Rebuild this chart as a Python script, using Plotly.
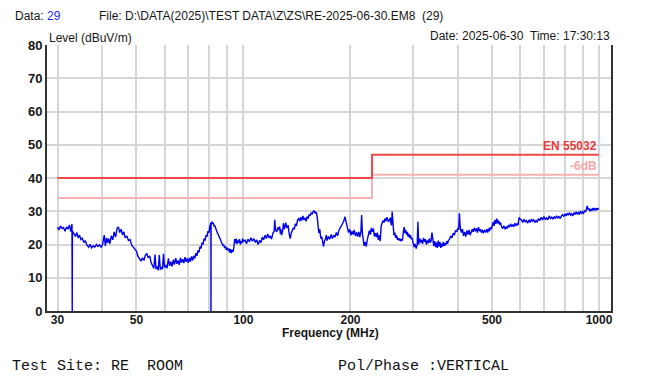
import plotly.graph_objects as go

# ---------------- data ----------------
spectrum = [
    (30.0, 25.2), (30.3, 24.4), (30.6, 25.6), (30.9, 24.8), (31.2, 25.1), (31.5, 24.0), (31.8, 25.3),
    (32.1, 24.6), (32.4, 25.9), (32.7, 23.9), (32.95, 26.2), (33.0, 0.0), (33.05, 24.0),
    (33.4, 23.2), (33.7, 22.4), (34.0, 23.6), (34.3, 22.0), (34.6, 22.8), (34.9, 21.5), (35.2, 21.9),
    (35.6, 20.6), (35.9, 21.2), (36.3, 19.8), (36.7, 19.2), (37.0, 20.1), (37.4, 19.0), (37.8, 19.6),
    (38.2, 19.2), (38.6, 20.0), (39.0, 19.4), (39.4, 19.9), (39.8, 19.1), (40.2, 20.2),
    (40.6, 22.8), (40.9, 19.6), (41.2, 22.0), (41.5, 20.5), (41.8, 21.8), (42.1, 20.2), (42.5, 22.6),
    (42.9, 21.4), (43.3, 23.8), (43.7, 22.2), (44.1, 24.8), (44.5, 25.3), (44.9, 23.6), (45.3, 24.6),
    (45.7, 22.9), (46.1, 23.8), (46.5, 22.0), (47.0, 22.6), (47.5, 21.2), (48.0, 21.5), (48.5, 19.8),
    (49.0, 19.2), (49.5, 18.4), (50.0, 18.0),
    (50.5, 16.5), (51.0, 15.6), (51.5, 15.0), (52.0, 16.0), (52.5, 15.2), (53.0, 16.8), (53.5, 17.2),
    (54.0, 16.0), (54.5, 16.6), (55.0, 14.6), (55.5, 13.8), (56.0, 12.8), (56.4, 17.0), (56.8, 12.6),
    (57.2, 13.4), (57.6, 12.2), (58.0, 16.8), (58.4, 12.4), (58.8, 13.2), (59.2, 12.6), (59.6, 17.2),
    (60.0, 13.0), (60.5, 13.8), (61.0, 12.9), (61.5, 15.8), (62.0, 13.6), (62.5, 14.8), (63.0, 13.4),
    (63.5, 15.4), (64.0, 14.0), (64.5, 15.9), (65.0, 14.2), (65.5, 15.2), (66.0, 13.9), (66.5, 16.0),
    (67.0, 14.6), (67.5, 15.6), (68.0, 14.4), (68.5, 16.2), (69.0, 14.8), (69.5, 15.8),
    (70.0, 14.5), (70.5, 16.0), (71.0, 14.9), (71.5, 16.4), (72.0, 15.2), (72.5, 16.6), (73.0, 15.8),
    (73.5, 17.4), (74.0, 16.6), (74.5, 18.2), (75.0, 17.6), (75.5, 19.4), (76.0, 18.8), (76.5, 20.6),
    (77.0, 20.0), (77.5, 21.8), (78.0, 21.2), (78.5, 22.8), (79.0, 22.4), (79.5, 24.0), (80.0, 23.6),
    (80.4, 25.2), (80.8, 26.2), (81.0, 26.6), (81.05, 0.0), (81.1, 26.0), (81.5, 26.9), (81.9, 26.2),
    (82.3, 26.6), (82.7, 25.4), (83.0, 25.8), (83.5, 24.6), (84.0, 24.2), (84.5, 23.4), (85.0, 23.0),
    (85.5, 22.2), (86.0, 21.8), (86.5, 21.0), (87.0, 20.6), (87.5, 19.8), (88.0, 19.9), (88.5, 19.0),
    (89.0, 19.4), (89.5, 18.4), (90.0, 19.0), (90.5, 18.2), (91.0, 18.8), (91.5, 17.6), (92.0, 18.6),
    (92.5, 17.4), (93.0, 18.4), (93.5, 17.8), (94.0, 19.2), (94.5, 21.6), (95.0, 20.4),
    (95.5, 21.8), (96.0, 20.2), (96.5, 21.2), (97.0, 20.6), (97.5, 21.6), (98.0, 20.0), (98.5, 21.0),
    (99.0, 20.4), (99.5, 21.8), (100, 20.8), (101, 21.4), (102, 20.2), (103, 21.6), (104, 20.8),
    (105, 22.0), (106, 21.0), (107, 21.8), (108, 20.6), (109, 21.4), (110, 20.0), (111, 21.2),
    (112, 20.6), (113, 22.2), (114, 21.4), (115, 22.8), (116, 21.8), (117, 23.2), (118, 22.0),
    (119, 22.6), (120, 21.6), (121, 23.4), (122, 24.0), (122.5, 27.4), (123, 24.6), (124, 23.8),
    (125, 25.2), (126, 24.4), (126.5, 25.4), (127, 23.2), (127.5, 24.6), (128, 22.8), (129, 24.2),
    (129.5, 26.4), (130.5, 24.6), (131.5, 26.6), (132.5, 25.0), (133.5, 25.8), (134.5, 23.2),
    (135.4, 21.8), (136.3, 23.4), (137.2, 24.2), (138.1, 25.0), (139.0, 24.6), (140, 26.2), (141, 25.6),
    (142, 27.4), (143, 27.8), (144, 27.0), (145, 28.2), (146, 27.2), (147, 28.6), (148, 27.4),
    (149, 28.0), (150, 27.0), (151, 28.4), (152, 27.8), (153, 29.0), (154, 28.6), (155, 29.6),
    (156, 29.2), (157, 29.8), (158, 30.2), (159, 29.4), (160, 29.8), (161, 28.8), (162, 25.6),
    (163, 23.4), (164, 24.6), (165, 21.8), (166, 22.4), (167, 20.4), (168, 19.4), (169, 21.0),
    (170, 21.6), (171, 22.8), (172, 21.2), (173.5, 22.4), (175, 21.6), (176.5, 23.0), (178, 21.8),
    (179.5, 22.8), (181, 22.2), (182.5, 23.6), (184, 22.6), (185.5, 24.2), (187, 24.8), (188.5, 25.6),
    (190, 26.0), (191.5, 27.0), (193, 28.4), (194.5, 26.6), (196, 25.0), (197.5, 23.6), (199, 24.6),
    (200.5, 22.8), (202, 24.0), (203.5, 23.0), (205, 24.4), (206.5, 22.6), (208, 23.6), (209.5, 22.4),
    (211, 23.8), (212.5, 22.2), (214, 24.0), (215, 28.9), (216, 23.4), (217, 21.6), (218.5, 19.6),
    (220, 20.8), (221.5, 19.4), (223, 21.4), (224.5, 22.6), (226, 24.2), (227.5, 23.0), (229, 25.0),
    (230.5, 23.8), (232, 24.8), (233.5, 22.4), (235, 23.4), (236.5, 22.2), (238, 23.6), (239.5, 21.4),
    (241, 22.8), (242.5, 21.0), (244, 25.6), (245.5, 26.4), (247, 27.2), (248.5, 26.6), (250, 27.8),
    (251.5, 27.0), (253, 28.2), (254.5, 27.4), (256, 26.8), (257.5, 27.6), (259, 28.0), (260, 26.2),
    (261, 25.8), (262, 29.9), (263.5, 24.6), (265, 22.8), (266.5, 23.6), (268, 22.0), (269.5, 22.8),
    (271, 21.4), (272.5, 22.0), (274, 21.2), (275.5, 21.8), (277, 21.0), (278.5, 21.6), (280, 21.2),
    (281.5, 23.6), (283, 25.2), (284.5, 23.4), (286, 24.4), (287.5, 23.0), (289, 23.8), (290.5, 22.4),
    (292, 23.2), (293.5, 22.0), (295, 22.8), (296.5, 21.6), (298, 22.0), (300, 20.4), (302, 19.2),
    (304, 20.2), (306, 18.8), (308, 19.8), (309.5, 26.8), (311, 20.0), (313, 21.8), (315, 20.6),
    (317, 21.4), (319, 20.2), (321, 22.0), (323, 20.8), (325, 21.6), (327, 20.0), (329, 21.2),
    (331, 20.4), (333, 21.8), (335, 20.6), (337, 21.0), (339, 23.6), (341, 20.4), (343, 19.6),
    (345, 21.0), (347, 19.2), (349, 20.6), (351, 19.0), (353, 21.2), (355, 19.4), (357, 20.8),
    (359, 19.0), (361, 20.2), (363, 19.4), (365, 20.8), (367, 19.6), (369, 20.4), (371, 19.8),
    (373, 21.0), (375, 20.2), (377, 21.2), (380, 21.6), (383, 22.6), (386, 22.0), (389, 23.4),
    (392, 22.8), (395, 24.2), (398, 23.8), (401, 25.0), (403, 24.4), (405, 29.4), (407, 25.2),
    (410, 23.6), (413, 24.6), (416, 22.6), (419, 23.8), (422, 22.4), (425, 24.2), (428, 23.0),
    (431, 24.4), (434, 22.8), (437, 23.6), (440, 24.6), (443, 23.8), (446, 25.0), (449, 24.0),
    (452, 24.8), (455, 23.6), (458, 25.2), (461, 24.0), (464, 24.6), (467, 23.6), (470, 24.4),
    (473, 23.4), (476, 24.2), (480, 23.8), (483, 24.6), (486, 23.6), (489, 24.8), (492, 24.0),
    (495, 25.2), (498, 24.6), (501, 25.8), (504, 26.8), (507, 25.6), (510, 27.4), (513, 26.2),
    (516, 27.8), (519, 26.4), (522, 27.2), (525, 26.0), (528, 26.6), (532, 25.4), (536, 24.8),
    (540, 25.6), (544, 24.6), (548, 25.4), (552, 24.8), (556, 25.8), (560, 25.2), (564, 26.2),
    (568, 25.4), (572, 26.0), (576, 25.4), (580, 26.4), (584, 25.6), (588, 26.2), (592, 25.8),
    (596, 28.2), (600, 27.6), (605, 27.4), (610, 26.6), (615, 27.6), (620, 26.8), (625, 27.2),
    (630, 26.4), (635, 27.4), (640, 26.6), (645, 27.6), (650, 27.0), (655, 27.4), (660, 26.6),
    (665, 27.2), (670, 26.8), (676, 27.8), (682, 27.2), (688, 28.2), (694, 27.4), (700, 28.4),
    (706, 27.6), (712, 28.0), (718, 27.4), (724, 28.6), (730, 27.8), (736, 28.2), (742, 27.6),
    (748, 28.4), (754, 27.8), (760, 28.6), (766, 28.0), (772, 28.4), (778, 27.8), (784, 28.6),
    (790, 29.0), (796, 28.4), (802, 29.2), (808, 28.6), (814, 29.4), (820, 28.8), (826, 29.6),
    (832, 28.8), (838, 29.2), (844, 28.6), (850, 29.6), (856, 29.0), (862, 29.8), (868, 29.2),
    (874, 29.6), (880, 29.0), (886, 30.0), (892, 29.4), (898, 29.8), (904, 29.2), (910, 30.2),
    (916, 29.8), (922, 30.6), (927, 31.6), (932, 30.4), (938, 30.8), (944, 30.0), (950, 30.6),
    (956, 30.2), (962, 31.0), (968, 30.4), (974, 30.8), (980, 30.4), (986, 31.0), (990, 30.6),
    (1000, 30.8),
]
freq_mhz = [p[0] for p in spectrum]
level_dbuv = [p[1] for p in spectrum]

limit_freq = [30, 230, 230, 1000]
limit_level = [40, 40, 47, 47]
margin_db = 6
limit_name = "EN 55032"
margin_name = "-6dB"

x_tick_vals = [30, 40, 50, 60, 70, 80, 90, 100, 200, 300, 400, 500, 600, 700, 800, 900, 1000]
x_tick_text = ["30", "", "50", "", "", "", "", "100", "200", "", "", "500", "", "", "", "", "1000"]
y_tick_vals = [0, 10, 20, 30, 40, 50, 60, 70, 80]

# ---------------- layout geometry (page pixels) ----------------
OFF = 8                      # default page margin around the figure
W, H = 651 - OFF, 376 - OFF  # figure size so that it fills the window
L, R, T, B = 47, 611, 45, 311  # plot area edges in page pixels


def px(x):
    return (x - L) / (R - L)


def py(y):
    return (B - y) / (B - T)


TXT = "#161616"
SANS = "Liberation Sans, Arial, sans-serif"
MONO = "Liberation Mono, Courier New, monospace"

fig = go.Figure()
fig.add_trace(go.Scatter(
    x=limit_freq, y=[v - margin_db for v in limit_level], mode="lines",
    line=dict(color="#f6b2b2", width=2), hoverinfo="skip", showlegend=False))
fig.add_trace(go.Scatter(
    x=limit_freq, y=limit_level, mode="lines",
    line=dict(color="#ee4848", width=2), hoverinfo="skip", showlegend=False))
fig.add_trace(go.Scatter(
    x=freq_mhz, y=level_dbuv, mode="lines",
    line=dict(color="#0000ee", width=1.4), showlegend=False))

fig.update_layout(
    width=W, height=H,
    margin=dict(l=L - OFF, r=(W + OFF) - R, t=T - OFF, b=(H + OFF) - B, pad=0, autoexpand=False),
    paper_bgcolor="white", plot_bgcolor="white",
    showlegend=False,
    xaxis=dict(
        type="log", range=[1.4476, 3.0337],
        tickmode="array", tickvals=x_tick_vals, ticktext=x_tick_text,
        showgrid=True, gridcolor="#d6d6d6", gridwidth=1.5,
        showline=True, linecolor="#333333", linewidth=2, mirror=False,
        ticks="", zeroline=False, ticklabelstandoff=-3,
        tickfont=dict(family=SANS, size=12, color=TXT, weight="bold"),
    ),
    yaxis=dict(
        range=[0, 80], tickmode="array", tickvals=y_tick_vals,
        showgrid=True, gridcolor="#d6d6d6", gridwidth=1.5,
        showline=True, linecolor="#333333", linewidth=2, mirror=True,
        ticks="", zeroline=False,
        tickfont=dict(family=SANS, size=13, color=TXT, weight="bold"),
    ),
)

ann = []


def text(x, y, s, size=12, anchor="left", family=SANS, color=TXT, weight="normal"):
    ann.append(dict(
        x=px(x), y=py(y), xref="paper", yref="paper", text=s, showarrow=False,
        xanchor=anchor, yanchor="middle",
        font=dict(family=family, size=size, color=color, weight=weight)))


text(13, 16, 'Data: <span style="color:#2a2aff">29</span>')
text(97, 16, "File: D:\\DATA(2025)\\TEST DATA\\Z\\ZS\\RE-2025-06-30.EM8\u00a0\u00a0(29)")
text(47, 38, "Level (dBuV/m)")
text(612, 36, "Date: 2025-06-30\u00a0\u00a0Time: 17:30:13", anchor="right")
text(330, 333, "Frequency (MHz)", anchor="center", weight="bold")
text(10, 366, "Test Site: RE\u00a0\u00a0ROOM", size=15, family=MONO, color="#111111")
text(336, 366, "Pol/Phase :VERTICAL", size=15, family=MONO, color="#111111")

ann.append(dict(x=3, y=limit_level[-1], xref="x", yref="y", text=limit_name, showarrow=False,
                xanchor="right", yanchor="bottom", yshift=0,
                font=dict(family=SANS, size=12, color="#e83c3c", weight="bold")))
ann.append(dict(x=3, y=limit_level[-1] - margin_db, xref="x", yref="y", text=margin_name,
                showarrow=False, xanchor="right", yanchor="bottom", yshift=0,
                font=dict(family=SANS, size=12, color="#f4a6a6", weight="bold")))

fig.update_layout(annotations=ann)

fig.write_html("out.html")
